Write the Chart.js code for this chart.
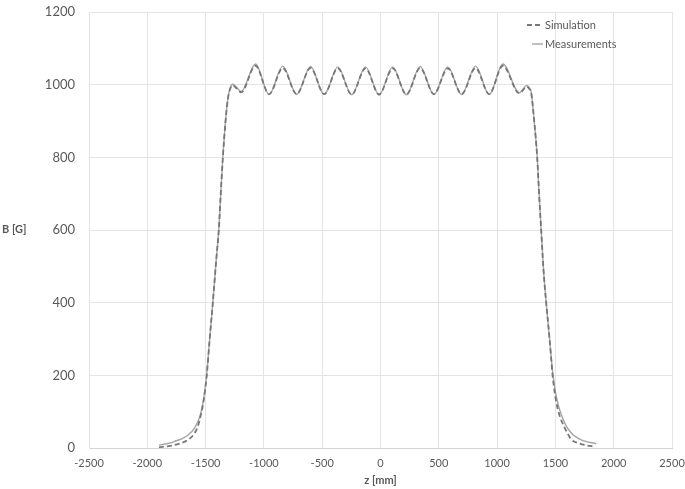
<!DOCTYPE html>
<html>
<head>
<meta charset="utf-8">
<script src="https://cdn.jsdelivr.net/npm/chart.js@4.4.0/dist/chart.umd.min.js"></script>
<style>
  html, body { margin: 0; padding: 0; background: #fff; }
  #wrap { width: 685px; height: 489px; }
</style>
</head>
<body>
<div id="wrap"><canvas id="fieldChart" width="685" height="489"></canvas></div>
<script>
// z positions [mm] and field values [G]
const measZ = [-1900, -1850, -1800, -1752, -1700, -1650, -1595, -1555, -1530, -1510, -1490, -1465, -1438, -1409, -1387, -1370, -1352, -1329, -1310, -1290, -1267, -1235, -1195,
    -1072, -955, -838, -719, -600, -483, -366, -247, -129, -12, 105, 222, 340, 458, 577, 696, 815, 932, 1049,
    1190, 1255, 1275, 1292, 1318, 1344, 1360, 1378, 1398, 1421, 1450, 1478, 1500, 1525, 1555, 1593, 1640, 1692, 1750, 1800, 1850];
const measB = [8, 11, 14, 20, 26, 36, 55, 82, 112, 150, 205, 300, 400, 517, 600, 700, 800, 900, 960, 990, 1001, 993, 981,
    1057, 973, 1051, 973, 1050, 973, 1049, 972, 1049, 972, 1049, 972, 1050, 973, 1049, 973, 1051, 973, 1057,
    978, 998, 992, 980, 900, 800, 700, 600, 490, 400, 300, 205, 155, 118, 88, 60, 40, 27, 19, 15, 12];

const simZ = [-1900, -1850, -1800, -1724, -1653, -1600, -1567, -1545, -1525, -1508, -1490, -1465, -1438, -1409, -1387, -1370, -1352, -1329, -1310, -1290, -1267, -1235, -1195,
    -1072, -955, -838, -719, -600, -483, -366, -247, -129, -12, 105, 222, 340, 458, 577, 696, 815, 932, 1049,
    1190, 1255, 1275, 1292, 1318, 1344, 1360, 1378, 1398, 1421, 1450, 1476, 1495, 1515, 1540, 1578, 1605, 1635, 1700, 1770, 1835];
const simB = [2, 4, 6, 12, 22, 38, 59, 85, 115, 150, 200, 300, 400, 517, 600, 700, 800, 900, 958, 988, 998, 990, 979,
    1052, 974, 1046, 974, 1046, 974, 1045, 973, 1045, 973, 1045, 973, 1046, 974, 1045, 974, 1046, 974, 1052,
    976, 995, 989, 978, 900, 800, 700, 600, 490, 400, 300, 200, 150, 115, 85, 57, 40, 24, 13, 7, 4];

const zTicks = [-2500, -2000, -1500, -1000, -500, 0, 500, 1000, 1500, 2000, 2500];
const bTicks = [0, 200, 400, 600, 800, 1000, 1200];

const seriesNames = ["Simulation", "Measurements"];
const xTitle = "z [mm]";
const yTitle = "B [G]";

const toPoints = (xs, ys) => xs.map((x, i) => ({ x: x, y: ys[i] }));

// axis titles and the little legend inside the plot
const extras = {
    id: 'extras',
    afterDraw(chart) {
        const ctx = chart.ctx;
        const area = chart.chartArea;
        ctx.save();
        ctx.fillStyle = '#595959';
        ctx.font = 'bold 11px Lato';
        ctx.textBaseline = 'middle';
        ctx.textAlign = 'left';
        ctx.fillText(yTitle, 2, (area.top + area.bottom) / 2 - 1);
        ctx.textAlign = 'center';
        ctx.fillText(xTitle, (area.left + area.right) / 2, 480);

        // legend
        const ds = chart.data.datasets;
        ctx.font = '11px Lato';
        ctx.textAlign = 'left';
        const lx = area.right - 145;
        ds.forEach((d, i) => {
            const y = 25 + i * 19;
            ctx.beginPath();
            ctx.strokeStyle = d.borderColor;
            ctx.lineWidth = d.borderWidth;
            ctx.setLineDash(d.borderDash || []);
            ctx.moveTo(lx + (i === 0 ? 0 : 5), y);
            ctx.lineTo(lx + 16, y);
            ctx.stroke();
            ctx.setLineDash([]);
            ctx.fillText(d.label, lx + 18, y);
        });
        ctx.restore();
    }
};

let fieldChart = new Chart(document.getElementById("fieldChart").getContext('2d'), {
    type: 'scatter',
    data: {
        datasets: [{
            label: seriesNames[0],
            data: toPoints(simZ, simB),
            showLine: true,
            borderColor: '#777777',
            borderWidth: 1.8,
            borderDash: [5, 3],
            pointRadius: 0,
            cubicInterpolationMode: 'monotone'
        },
        {
            label: seriesNames[1],
            data: toPoints(measZ, measB),
            showLine: true,
            borderColor: '#a4a4a4',
            borderWidth: 1.4,
            pointRadius: 0,
            cubicInterpolationMode: 'monotone'
        }]
    },
    options: {
        responsive: false,
        animation: false,
        layout: { padding: { top: 12, right: 13, left: 0, bottom: 0 } },
        plugins: {
            legend: { display: false },
            tooltip: { enabled: false }
        },
        scales: {
            x: {
                type: 'linear',
                min: zTicks[0],
                max: zTicks[zTicks.length - 1],
                afterBuildTicks: s => { s.ticks = zTicks.map(v => ({ value: v })); },
                afterFit: s => { s.height = 41; s.paddingLeft = 0; s.paddingRight = 0; },
                grid: { color: '#e4e4e4', drawTicks: false },
                border: { color: '#d4d4d4' },
                ticks: { color: '#595959', font: { family: 'Lato', size: 11 }, padding: 9, maxRotation: 0, callback: v => String(v) }
            },
            y: {
                type: 'linear',
                min: bTicks[0],
                max: bTicks[bTicks.length - 1],
                afterBuildTicks: s => { s.ticks = bTicks.map(v => ({ value: v })); },
                afterFit: s => { s.width = 89; s.paddingTop = 0; s.paddingBottom = 0; },
                grid: { color: '#e4e4e4', drawTicks: false },
                border: { color: '#e4e4e4' },
                ticks: { color: '#595959', font: { family: 'Lato', size: 13 }, padding: 14, callback: v => String(v) }
            }
        }
    },
    plugins: [extras]
});
</script>
</body>
</html>
